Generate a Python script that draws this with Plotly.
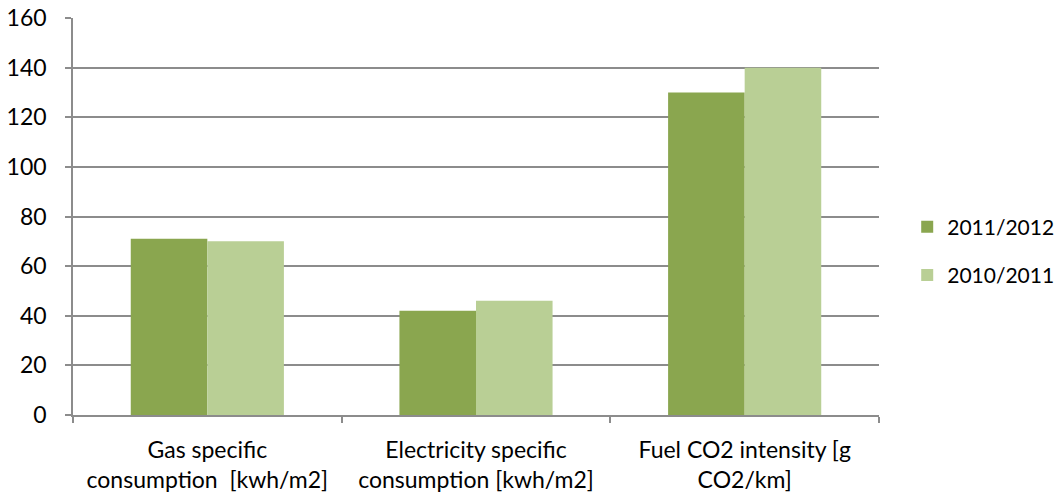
import plotly.graph_objects as go

categories = [
    "Gas specific<br>consumption  [kwh/m2]",
    "Electricity specific<br>consumption [kwh/m2]",
    "Fuel CO2 intensity [g<br>CO2/km]",
]
series_names = ["2011/2012", "2010/2011"]
values_2011_2012 = [71, 42, 130]
values_2010_2011 = [70, 46, 140]
y_ticks = [0, 20, 40, 60, 80, 100, 120, 140, 160]

colors = ["#8AA64F", "#B9CF95"]
font_family = "Lato, 'Open Sans', sans-serif"
grid_color = "#8C8C8C"

fig = go.Figure()
for name, vals, col in zip(series_names, [values_2011_2012, values_2010_2011], colors):
    fig.add_trace(go.Bar(x=categories, y=vals, name=name, legendgroup=name,
                         marker=dict(color=col, line=dict(width=0))))

fig.update_layout(
    width=1064, height=497,
    margin=dict(l=73, r=185, t=18, b=82, autoexpand=False),
    paper_bgcolor="white", plot_bgcolor="white",
    barmode="group", bargap=0.43, bargroupgap=0,
    font=dict(family=font_family, size=23, color="#000000"),
    legend=dict(x=1.035, xanchor="left", y=0.413, yanchor="middle",
                font=dict(size=21), tracegroupgap=18),
    showlegend=True,
)
fig.update_xaxes(
    showline=True, linecolor=grid_color, linewidth=1.5,
    ticks="outside", tickson="boundaries", ticklen=6, tickcolor=grid_color, tickwidth=1.5,
    tickfont=dict(size=23), showgrid=False, ticklabelstandoff=14, automargin=False,
)
fig.update_yaxes(
    range=[0, 160], tickvals=y_ticks,
    showline=True, linecolor=grid_color, linewidth=1.5,
    showgrid=True, gridcolor=grid_color, gridwidth=1.5,
    ticks="outside", ticklen=6, tickcolor=grid_color, tickwidth=1.5,
    tickfont=dict(size=23), zeroline=False, ticklabelstandoff=14, automargin=False,
)

fig.write_html("out.html")
